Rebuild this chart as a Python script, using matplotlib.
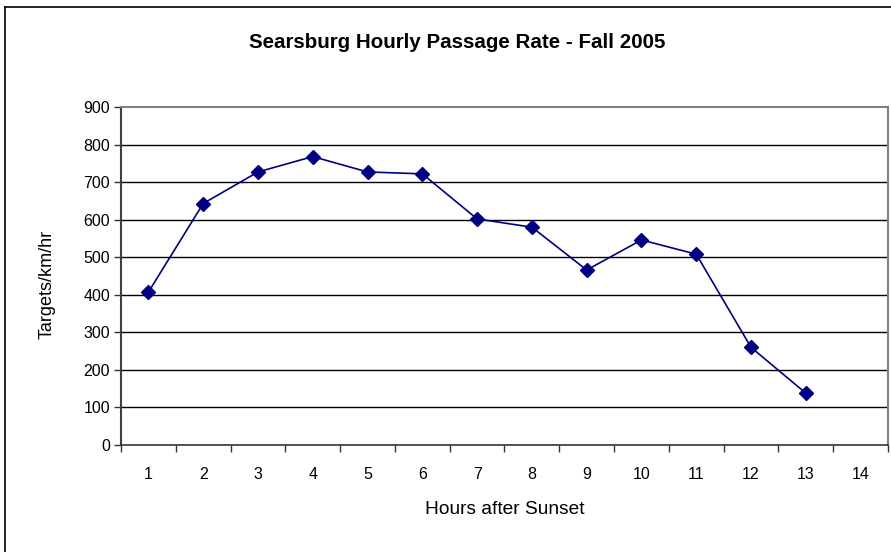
import matplotlib
matplotlib.use("Agg")
import matplotlib.pyplot as plt
from matplotlib.lines import Line2D

hours = [1, 2, 3, 4, 5, 6, 7, 8, 9, 10, 11, 12, 13]
rates = [407, 643, 727, 768, 727, 722, 602, 580, 466, 546, 508, 260, 138]
x_labels = [str(i) for i in range(1, 15)]
y_ticks = [0, 100, 200, 300, 400, 500, 600, 700, 800, 900]

plt.rcParams['font.family'] = ['Liberation Sans', 'DejaVu Sans']

fig = plt.figure(figsize=(8.91, 5.52), dpi=100)
ax = fig.add_axes([121/891, 1-445/552, (888-121)/891, (445-107)/552])

ax.plot([h - 0.5 for h in hours], rates, color='#000080', lw=1.2,
        marker='D', markersize=7, markerfacecolor='#000080', markeredgecolor='#000080')

ax.set_xlim(0, 14)
ax.set_ylim(0, 900)
ax.set_yticks(y_ticks)
ax.set_yticklabels([str(v) for v in y_ticks], fontsize=11.5)
ax.set_xticks(range(0, 15))
ax.set_xticklabels([])
ax.set_xticks([i + 0.5 for i in range(14)], minor=True)
ax.set_xticklabels(x_labels, minor=True, fontsize=11.5)
ax.tick_params(axis='x', which='major', direction='out', length=5, color='#333333', width=1)
ax.tick_params(axis='x', which='minor', length=0, pad=16)
ax.tick_params(axis='y', direction='out', length=5, color='#333333', width=1, pad=3)

for v in y_ticks[1:-1]:
    ax.axhline(v, color='black', lw=1, zorder=0)

ax.spines['left'].set_color('#404040')
ax.spines['left'].set_linewidth(1.5)
ax.spines['bottom'].set_color('#333333')
ax.spines['bottom'].set_linewidth(1.2)
ax.spines['top'].set_color('#808080')
ax.spines['top'].set_linewidth(1.5)
ax.spines['right'].set_color('#808080')
ax.spines['right'].set_linewidth(1.5)

fig.text(457/891, 1-42/552, 'Searsburg Hourly Passage Rate - Fall 2005',
         ha='center', va='center', fontsize=14.8, fontweight='bold')
fig.text(505/891, 1-510/552, 'Hours after Sunset', ha='center', va='center', fontsize=13.8)
fig.text(47/891, 1-284/552, 'Targets/km/hr', ha='center', va='center', fontsize=13, rotation=90)

fig.add_artist(Line2D([5/891, 5/891], [0, 1-7/552], color='black', lw=1.2, transform=fig.transFigure))
fig.add_artist(Line2D([5/891, 1], [1-7/552, 1-7/552], color='black', lw=1.2, transform=fig.transFigure))

fig.savefig('out.png', dpi=100)
